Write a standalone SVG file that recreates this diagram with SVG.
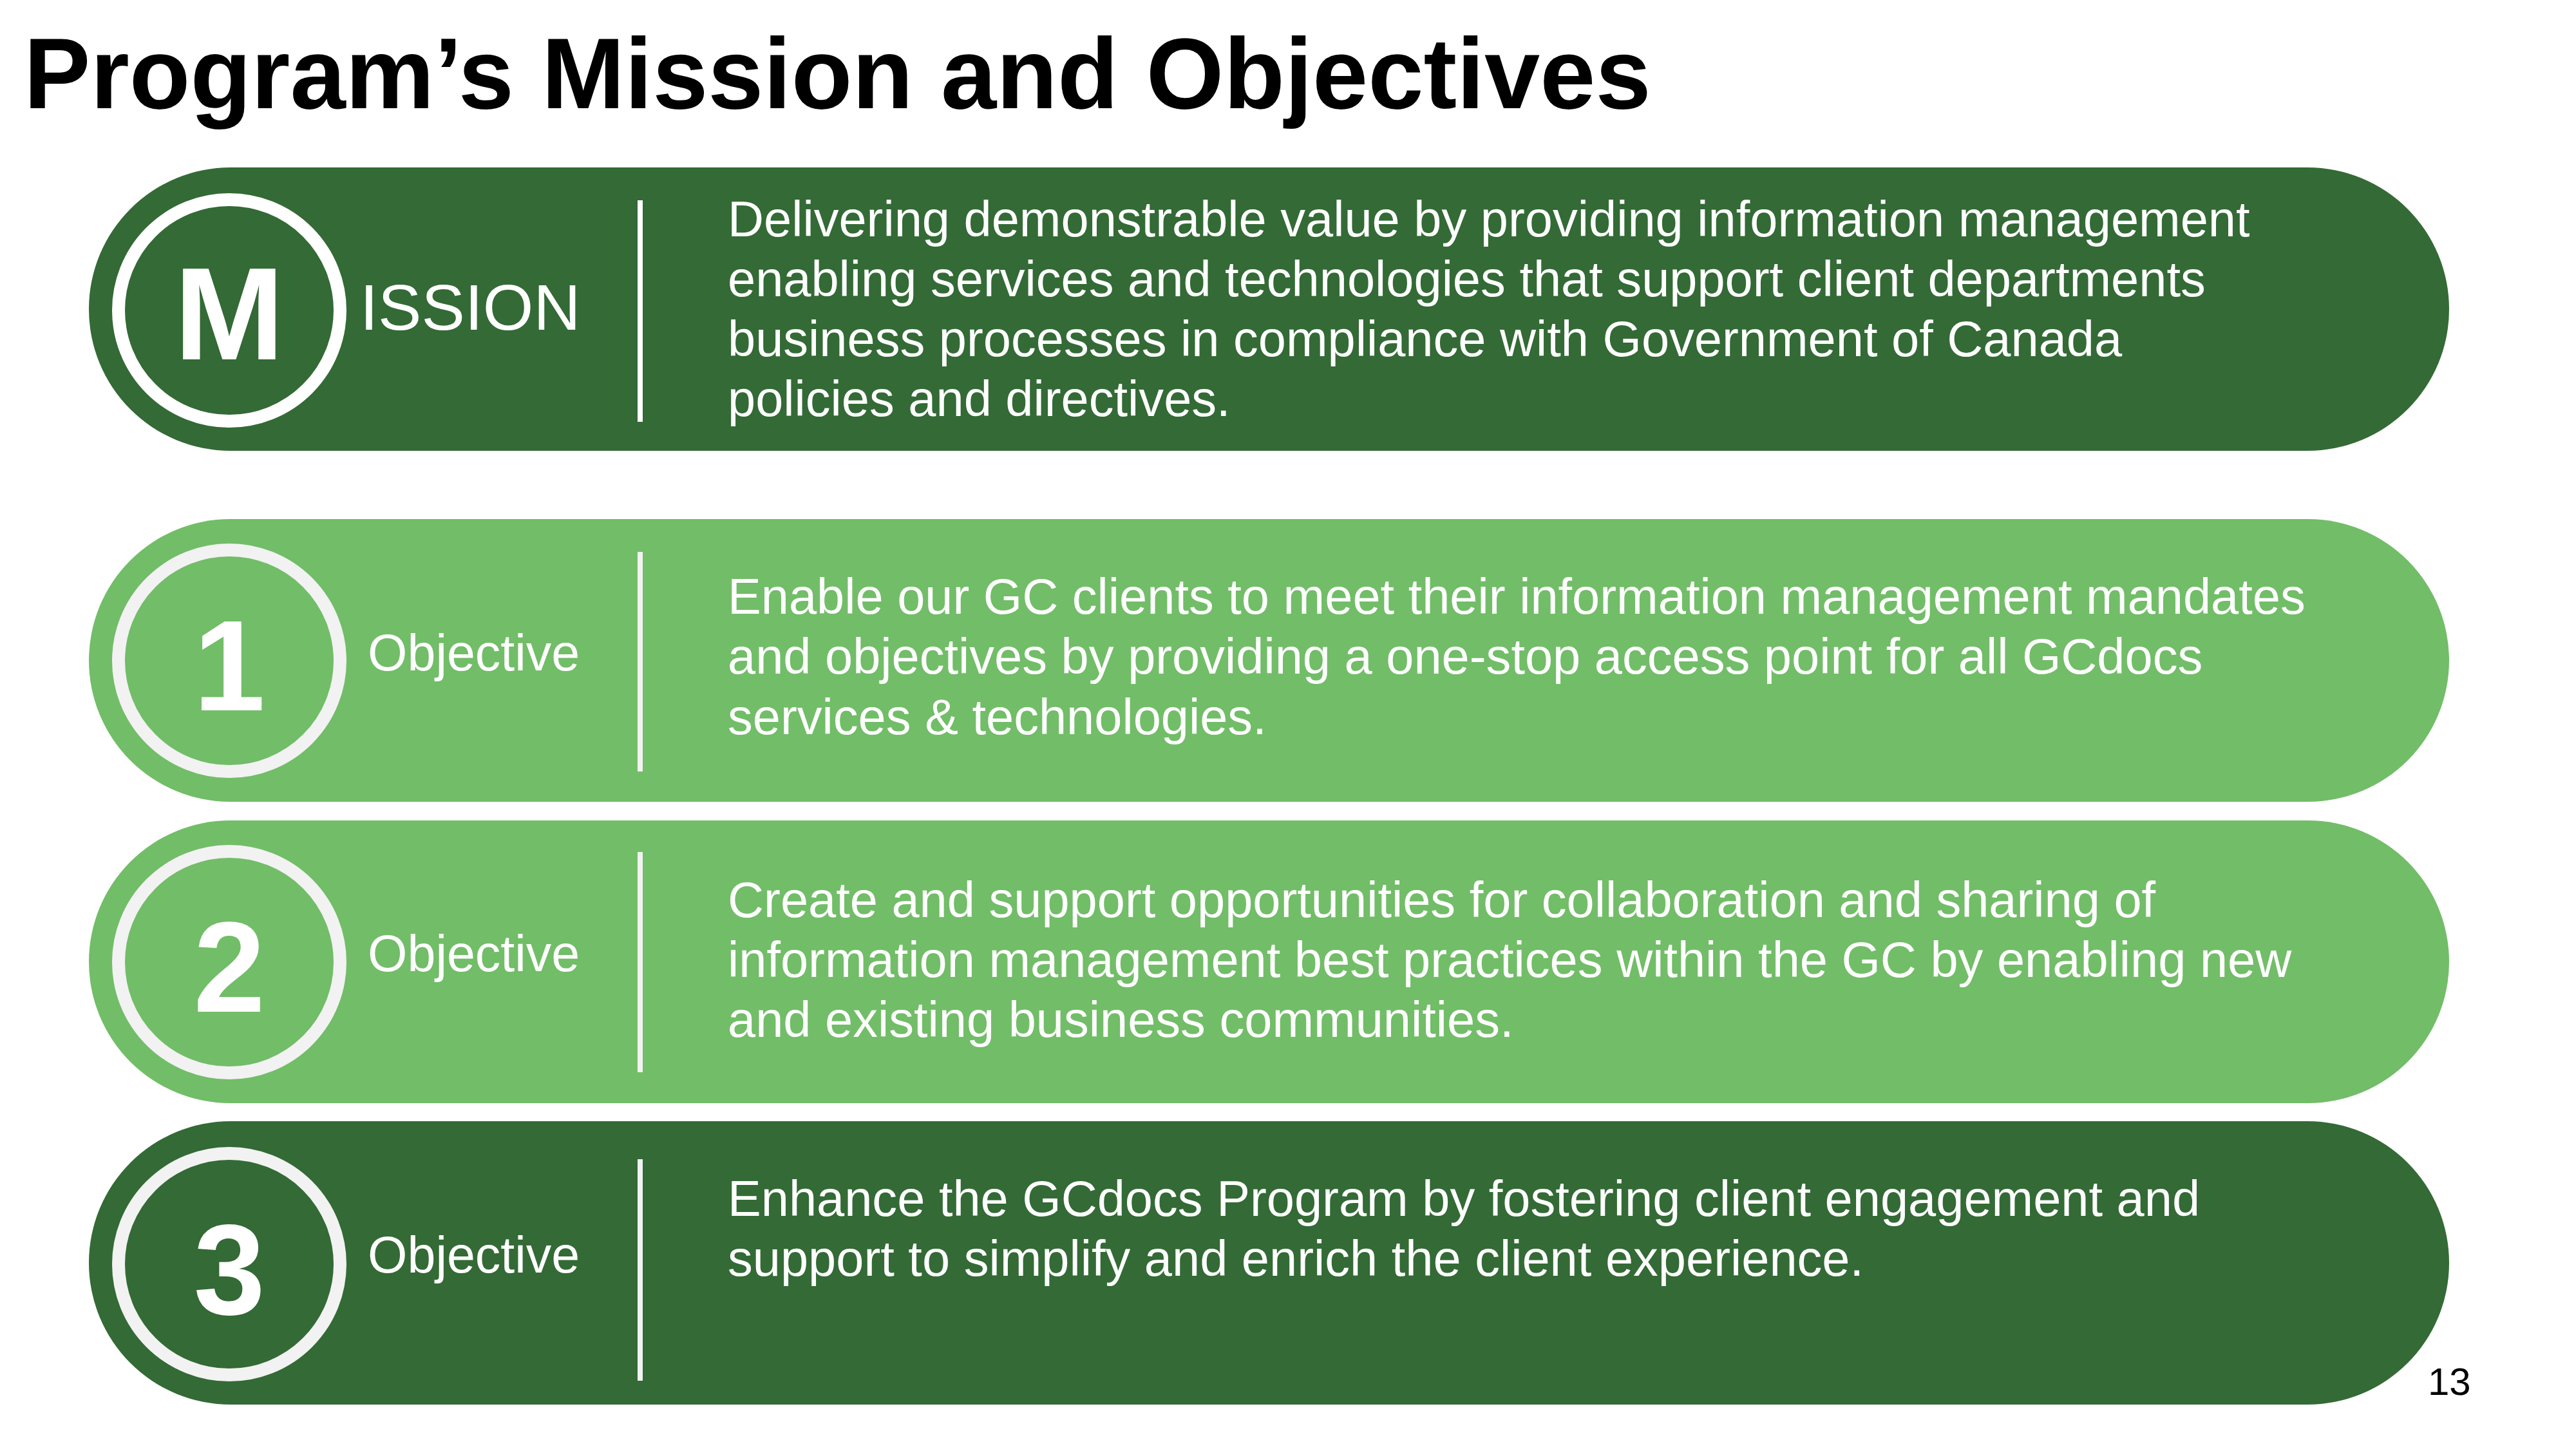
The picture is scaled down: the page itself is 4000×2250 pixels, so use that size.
<svg xmlns="http://www.w3.org/2000/svg" width="4000" height="2250" viewBox="0 0 4000 2250">
<style>
  .dark { fill: #336A35; }
  .light { fill: #72BD68; }
  .ring-w { fill: none; stroke: #FFFFFF; stroke-width: 20; }
  .ring-g { fill: none; stroke: #F2F2F2; stroke-width: 20; }
  .div { stroke: #FFFFFF; stroke-width: 8; }
  .div-g { stroke: #F2F2F2; stroke-width: 8; }
  .big { font-family: "Liberation Sans", Arial, Helvetica, sans-serif; font-weight: bold; fill: #FFFFFF; text-anchor: middle; }
  .lbl { font-family: "Liberation Sans", Arial, Helvetica, sans-serif; fill: #FFFFFF; }
  .body { font-family: "Liberation Sans", Arial, Helvetica, sans-serif; font-size: 77.6px; fill: #FFFFFF; }
</style>
<rect x="0" y="0" width="4000" height="2250" fill="#FFFFFF"/>
<g id="title">
  <text x="37" y="168" font-family="Liberation Sans, Arial, Helvetica, sans-serif" font-weight="bold" font-size="155" fill="#000000">Program’s Mission and Objectives</text>
</g>
<g id="mission">
  <rect class="dark" x="138" y="260" width="3665" height="440" rx="220" ry="220"/>
  <circle class="ring-w" cx="356" cy="482" r="172"/>
  <text class="big" x="356" y="558" font-size="205">M</text>
  <text class="lbl" x="559" y="512" font-size="101">ISSION</text>
  <line class="div" x1="994" y1="311" x2="994" y2="655"/>
  <text class="body" x="1130">
    <tspan x="1130" y="367">Delivering demonstrable value by providing information management</tspan>
    <tspan x="1130" y="460">enabling services and technologies that support client departments</tspan>
    <tspan x="1130" y="553">business processes in compliance with Government of Canada</tspan>
    <tspan x="1130" y="646">policies and directives.</tspan>
  </text>
</g>
<g id="objective1">
  <rect class="light" x="138" y="806" width="3665" height="439" rx="219.5" ry="219.5"/>
  <circle class="ring-g" cx="356" cy="1026" r="172"/>
  <text class="big" x="356" y="1103" font-size="200">1</text>
  <text class="lbl" x="571" y="1041" font-size="79">Objective</text>
  <line class="div-g" x1="994" y1="857" x2="994" y2="1198"/>
  <text class="body" x="1130">
    <tspan x="1130" y="953">Enable our GC clients to meet their information management mandates</tspan>
    <tspan x="1130" y="1046">and objectives by providing a one-stop access point for all GCdocs</tspan>
    <tspan x="1130" y="1140">services &amp; technologies.</tspan>
  </text>
</g>
<g id="objective2">
  <rect class="light" x="138" y="1274" width="3665" height="439" rx="219.5" ry="219.5"/>
  <circle class="ring-g" cx="356" cy="1494" r="172"/>
  <text class="big" x="356" y="1571" font-size="200">2</text>
  <text class="lbl" x="571" y="1508" font-size="79">Objective</text>
  <line class="div-g" x1="994" y1="1323" x2="994" y2="1665"/>
  <text class="body" x="1130">
    <tspan x="1130" y="1424">Create and support opportunities for collaboration and sharing of</tspan>
    <tspan x="1130" y="1517">information management best practices within the GC by enabling new</tspan>
    <tspan x="1130" y="1610">and existing business communities.</tspan>
  </text>
</g>
<g id="objective3">
  <rect class="dark" x="138" y="1741" width="3665" height="440" rx="220" ry="220"/>
  <circle class="ring-g" cx="356" cy="1963" r="172"/>
  <text class="big" x="356" y="2041" font-size="200">3</text>
  <text class="lbl" x="571" y="1976" font-size="79">Objective</text>
  <line class="div-g" x1="994" y1="1800" x2="994" y2="2144"/>
  <text class="body" x="1130">
    <tspan x="1130" y="1888">Enhance the GCdocs Program by fostering client engagement and</tspan>
    <tspan x="1130" y="1981">support to simplify and enrich the client experience.</tspan>
  </text>
</g>
<g id="page-number">
  <text x="3770" y="2166" font-family="Liberation Sans, Arial, Helvetica, sans-serif" font-size="60" fill="#000000">13</text>
</g>
</svg>
